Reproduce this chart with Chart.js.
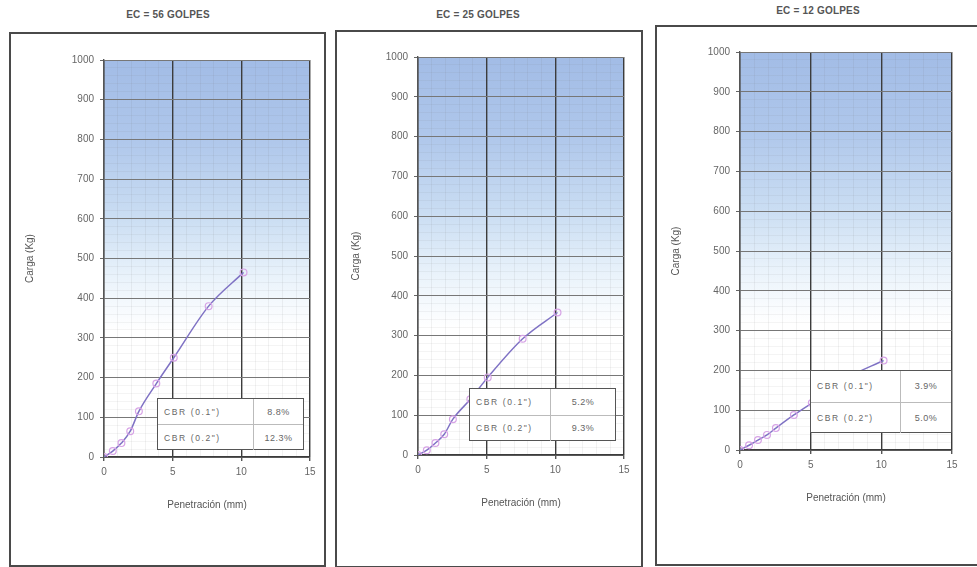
<!DOCTYPE html>
<html>
<head>
<meta charset="utf-8">
<script src="https://cdn.jsdelivr.net/npm/chart.js@4.4.1/dist/chart.umd.min.js"></script>
<style>
  html,body{margin:0;padding:0;background:#fff;width:977px;height:567px;overflow:hidden;font-family:"Liberation Sans",Arial,sans-serif;}
  .panel{position:absolute;border:2px solid #4a4a4a;box-sizing:border-box;}
  .ttl{position:absolute;font-size:10px;font-weight:bold;color:#555;transform:translateX(-50%);white-space:nowrap;letter-spacing:0.2px;}
  canvas{position:absolute;}
  .tbl{position:absolute;background:#fff;border:1.5px solid #555;box-sizing:border-box;font-size:8.5px;color:#666;letter-spacing:1.6px;}
  .tbl .row{position:absolute;left:0;right:0;height:50%;display:flex;align-items:center;}
  .tbl .row.r2{top:50%;border-top:1px solid #bbb;}
  .tbl .c1{padding-left:6px;box-sizing:border-box;border-right:1px solid #bbb;height:100%;display:flex;align-items:center;}
  .tbl .c2{flex:1;text-align:center;letter-spacing:0.5px;font-size:9px;}
</style>
</head>
<body>
<script>
// ---------- data ----------
const titles = ["EC = 56 GOLPES", "EC = 25 GOLPES", "EC = 12 GOLPES"];
const penetracion = [0, 0.64, 1.27, 1.91, 2.54, 3.81, 5.08, 7.62, 10.16];
const carga56 = [0, 15, 35, 65, 115, 185, 250, 380, 465];
const carga25 = [0, 12, 30, 52, 90, 140, 195, 292, 358];
const carga12 = [0, 12, 25, 38, 55, 88, 118, 182, 225];
const cbrLabels = ['CBR (0.1")', 'CBR (0.2")'];
const cbr56 = ["8.8%", "12.3%"];
const cbr25 = ["5.2%", "9.3%"];
const cbr12 = ["3.9%", "5.0%"];
const xTicks = [0, 5, 10, 15];
const yMax = 1000;
const xAxisTitle = "Penetración (mm)";
const yAxisTitle = "Carga (Kg)";

const series = [carga56, carga25, carga12];
const cbrValues = [cbr56, cbr25, cbr12];

// ---------- layout (page pixels) ----------
const layouts = [
  {panel:[9,32,317,535], title:[168,9], canvas:[11,34,313,529], plot:[104,60,310,457], table:[157,398,147,52,96]},
  {panel:[335,30,308,538], title:[478,9], canvas:[337,32,304,533], plot:[418,57,624,455], table:[469,388,147,53,81]},
  {panel:[655,25,324,541], title:[818,5], canvas:[657,27,318,536], plot:[740,52,952,450], table:[810,370,142,63,90]}
];

const bgPlugin = {
  id:'bgGrad',
  beforeDraw(chart){
    const {ctx, chartArea:a} = chart;
    const g = ctx.createLinearGradient(0, a.top, 0, a.bottom);
    g.addColorStop(0, '#a2bce6');
    g.addColorStop(0.2, '#afc7eb');
    g.addColorStop(0.4, '#cbdef3');
    g.addColorStop(0.55, '#eaf3fb');
    g.addColorStop(0.68, '#ffffff');
    g.addColorStop(1, '#ffffff');
    ctx.save();
    ctx.fillStyle = g;
    ctx.fillRect(a.left, a.top, a.right - a.left, a.bottom - a.top);
    ctx.restore();
  }
};

layouts.forEach((L, i) => {
  const p = document.createElement('div');
  p.className = 'panel';
  Object.assign(p.style, {left:L.panel[0]+'px', top:L.panel[1]+'px', width:L.panel[2]+'px', height:L.panel[3]+'px'});
  document.body.appendChild(p);

  const t = document.createElement('div');
  t.className = 'ttl';
  t.textContent = titles[i];
  Object.assign(t.style, {left:L.title[0]+'px', top:L.title[1]+'px'});
  document.body.appendChild(t);

  const [cl, ct, cw, ch] = L.canvas;
  const [pl, pt, pr, pb] = L.plot;
  const wrap = document.createElement('div');
  Object.assign(wrap.style, {position:'absolute', left:cl+'px', top:ct+'px', width:cw+'px', height:ch+'px'});
  document.body.appendChild(wrap);
  const cv = document.createElement('canvas');
  cv.width = cw; cv.height = ch;
  Object.assign(cv.style, {left:'0px', top:'0px', width:cw+'px', height:ch+'px'});
  wrap.appendChild(cv);

  const padLeft = 9;
  const yWidth = (pl - cl) - padLeft;
  const xHeight = 58;
  const padBottom = (ct + ch) - pb - xHeight;
  const font = {size:10, family:'"Liberation Sans", Arial'};

  new Chart(cv, {
    type:'line',
    data:{
      datasets:[{
        data: penetracion.map((x, k) => ({x, y: series[i][k]})),
        borderColor:'#7f72c4',
        borderWidth:1.5,
        pointStyle:'circle',
        pointRadius:3.4,
        pointBorderColor:'#d7a3e6',
        pointBorderWidth:1.2,
        pointBackgroundColor:'rgba(255,255,255,0)',
        cubicInterpolationMode:'monotone',
        fill:false
      }]
    },
    options:{
      responsive:false,
      animation:false,
      devicePixelRatio:1,
      layout:{padding:{left:padLeft, top:pt - ct, right:(cl + cw) - pr, bottom:padBottom}},
      plugins:{legend:{display:false}, tooltip:{enabled:false}},
      scales:{
        xm:{type:'linear', position:'bottom', min:0, max:15, display:true,
            ticks:{display:false, stepSize:1}, border:{display:false},
            grid:{color:'rgba(110,110,110,0.09)', drawTicks:false, z:-1},
            afterFit(s){ s.height = 0; }},
        ym:{type:'linear', position:'left', min:0, max:yMax, display:true,
            ticks:{display:false, stepSize:20}, border:{display:false},
            grid:{color:'rgba(110,110,110,0.08)', drawTicks:false, z:-1},
            afterFit(s){ s.width = 0; }},
        x:{type:'linear', position:'bottom', min:0, max:15,
           afterBuildTicks(s){ s.ticks = xTicks.map(v => ({value:v})); },
           ticks:{color:'#666', font, padding:5, callback:v => String(v)},
           grid:{color:'#3c3c3c', lineWidth:1.4, tickLength:4, tickColor:'#555'},
           border:{color:'#3c3c3c', width:1.4},
           title:{display:true, text:xAxisTitle, color:'#555', font, padding:{top:4,bottom:4}},
           afterFit(s){ s.height = xHeight; }},
        y:{type:'linear', position:'left', min:0, max:yMax,
           ticks:{stepSize:100, color:'#666', font, padding:6, callback:v => String(v)},
           grid:{color:'#777', lineWidth:1, tickLength:4, tickColor:'#666'},
           border:{color:'#555', width:1.4},
           title:{display:true, text:yAxisTitle, color:'#555', font, padding:{top:4,bottom:4}},
           afterFit(s){ s.width = yWidth; }}
      }
    },
    plugins:[bgPlugin]
  });

  const [tx, ty, tw, th, c1w] = L.table;
  const tb = document.createElement('div');
  tb.className = 'tbl';
  Object.assign(tb.style, {left:tx+'px', top:ty+'px', width:tw+'px', height:th+'px'});
  cbrLabels.forEach((lab, r) => {
    const row = document.createElement('div');
    row.className = 'row' + (r === 1 ? ' r2' : '');
    if (r === 0) row.style.top = '0';
    const c1 = document.createElement('div'); c1.className = 'c1'; c1.style.width = c1w + 'px'; c1.textContent = lab;
    const c2 = document.createElement('div'); c2.className = 'c2'; c2.textContent = cbrValues[i][r];
    row.appendChild(c1); row.appendChild(c2);
    tb.appendChild(row);
  });
  document.body.appendChild(tb);
});
</script>
</body>
</html>
